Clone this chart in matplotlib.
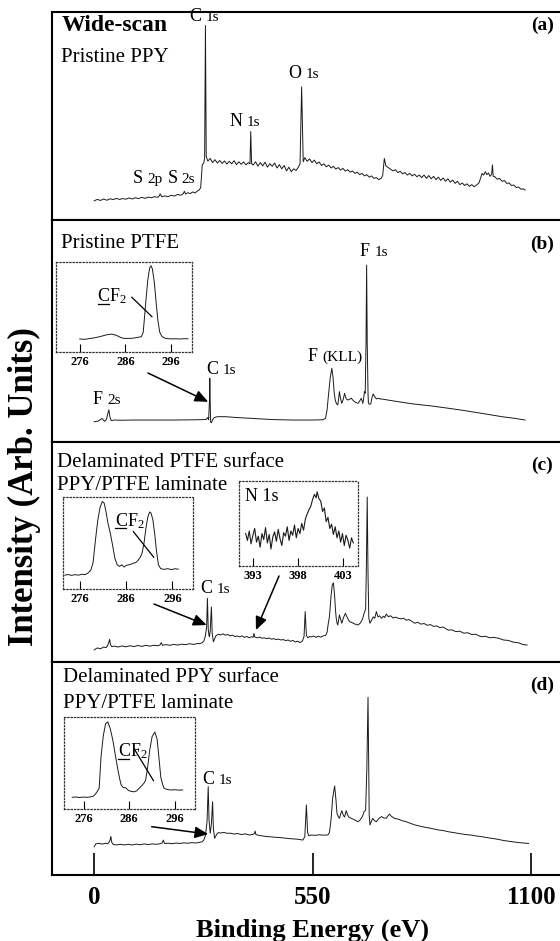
import matplotlib
matplotlib.use("Agg")
from matplotlib import pyplot as plt

plt.rcParams['font.family'] = ['Liberation Serif', 'DejaVu Serif']
plt.rcParams['mathtext.fontset'] = 'custom'
plt.rcParams['mathtext.rm'] = 'Liberation Serif'

# ---- wide-scan spectra (binding energy in eV, intensity in arb. units) ----
# (a) pristine PPY
ppy_be = [0, 8, 16, 24, 32, 40, 48, 56, 64, 72, 80, 88, 96, 104, 112, 120, 128, 136,
          144, 152, 160, 164, 166, 170, 178, 186, 194, 202, 210, 218, 224, 227, 230,
          236, 242, 248, 254, 260, 264, 268, 270, 272, 276, 278, 280, 282, 286, 292,
          298, 304, 310, 316, 322, 328, 334, 340, 346, 352, 358, 364, 370, 376, 382,
          388, 392, 394, 396, 400, 406, 412, 418, 424, 430, 436, 442, 448, 454, 460,
          466, 472, 478, 484, 490, 496, 502, 508, 514, 518, 522, 526, 530, 536, 542,
          548, 554, 560, 566, 572, 578, 584, 590, 596, 602, 608, 614, 620, 626, 632,
          638, 644, 650, 656, 662, 668, 674, 680, 686, 692, 698, 704, 710, 716, 722,
          726, 730, 734, 740, 746, 752, 758, 764, 770, 776, 782, 788, 794, 800, 806,
          812, 818, 824, 830, 836, 842, 848, 854, 860, 866, 872, 878, 884, 890, 896,
          902, 908, 914, 920, 926, 932, 938, 944, 950, 956, 962, 968, 972, 976, 980,
          984, 988, 992, 996, 1000, 1002, 1004, 1008, 1014, 1020, 1026, 1032, 1038,
          1044, 1050, 1056, 1062, 1068, 1074, 1080, 1084]
ppy_int = [9.2, 9.9, 9.4, 10.1, 9.5, 10.2, 9.8, 10.4, 9.9, 10.3, 10.0, 10.6, 10.1, 10.7,
           10.3, 10.9, 10.4, 11.0, 10.7, 11.2, 10.9, 11.6, 12.6, 11.2, 11.6, 11.2, 11.9,
           11.5, 12.3, 11.9, 12.6, 13.8, 12.5, 13.1, 12.7, 13.5, 13.0, 14.0, 14.4, 15.5,
           21.0, 26.5, 27.5, 30.0, 93.5, 30.5, 28.3, 29.6, 27.6, 29.0, 27.4, 28.6, 27.2,
           28.4, 26.9, 28.2, 27.0, 28.5, 26.6, 28.0, 26.8, 27.9, 26.5, 27.6, 27.0, 42.5,
           27.2, 26.4, 28.0, 25.9, 27.6, 26.0, 27.8, 25.4, 27.1, 25.8, 27.4, 25.0, 26.6,
           24.6, 26.2, 23.6, 25.4, 23.2, 24.6, 23.8, 25.5, 27.0, 64.0, 28.0, 30.0, 28.2,
           29.4, 27.6, 28.8, 27.0, 27.9, 26.2, 27.0, 25.6, 26.4, 25.0, 25.8, 24.5, 25.2,
           24.0, 24.8, 23.5, 24.2, 23.0, 23.6, 22.4, 23.0, 21.8, 22.4, 21.2, 21.8, 20.6,
           21.2, 20.0, 20.4, 19.4, 20.0, 21.5, 29.6, 26.0, 25.2, 24.4, 23.6, 24.2, 22.8,
           23.4, 22.2, 22.8, 21.6, 22.4, 21.2, 22.0, 20.8, 21.6, 20.4, 21.6, 20.0, 21.4,
           19.8, 21.0, 19.4, 20.6, 19.0, 20.2, 18.6, 19.8, 18.2, 19.2, 17.6, 18.6, 17.0,
           17.8, 16.6, 17.4, 16.2, 17.0, 16.0, 16.8, 17.8, 20.0, 22.4, 21.6, 23.2, 21.8,
           22.6, 21.0, 22.0, 26.5, 21.0, 20.8, 19.6, 20.0, 18.6, 19.0, 17.6, 17.8, 16.6,
           16.8, 15.6, 15.8, 14.8, 15.0, 14.4]

# (b) pristine PTFE
ptfe_be = [0, 10, 20, 26, 31, 34, 37, 40, 43, 50, 70, 100, 150, 200, 250, 275, 282, 286,
           288, 290, 291, 292, 293, 295, 298, 302, 310, 330, 360, 400, 450, 500, 550,
           575, 582, 586, 590, 594, 598, 601, 604, 607, 610, 613, 615, 617, 620, 623,
           627, 630, 634, 638, 642, 647, 652, 658, 664, 668, 672, 676, 678, 680, 682,
           684, 685.5, 687, 689, 690, 693, 696, 699, 702, 706, 710, 714, 720, 730, 739,
           760, 800, 850, 891, 930, 975, 1026, 1060, 1084]
ptfe_int = [9.1, 9.4, 10.6, 9.3, 10.2, 12.5, 14.5, 11.0, 9.6, 9.9, 9.8, 9.9, 9.9, 9.9,
            10.0, 10.1, 10.2, 11.0, 10.0, 18.0, 28.7, 18.0, 9.0, 8.7, 10.0, 11.0, 11.4,
            11.4, 11.0, 10.6, 10.1, 9.9, 9.9, 10.0, 10.6, 14.5, 22.0, 29.0, 33.2, 29.0,
            22.0, 18.5, 17.2, 16.7, 19.5, 22.7, 19.5, 17.4, 19.5, 21.9, 19.5, 18.9, 19.2,
            19.7, 18.6, 17.8, 17.4, 18.5, 19.7, 17.4, 19.5, 22.7, 22.0, 45.0, 79.7, 45.0,
            22.0, 17.4, 17.0, 17.2, 20.0, 21.6, 20.4, 19.4, 19.7, 19.4, 19.2, 18.9, 18.3,
            17.2, 16.2, 15.2, 14.2, 12.9, 11.4, 10.6, 9.9]

# (c) delaminated PTFE surface
dptfe_be = [0, 8, 16, 24, 30, 34, 37, 39, 41, 44, 52, 60, 70, 80, 90, 100, 110, 120,
            130, 140, 150, 160, 166, 169, 172, 180, 190, 200, 210, 220, 230, 240, 250,
            260, 266, 272, 276, 280, 283, 285, 287, 289, 290, 292, 295, 297, 300, 303,
            306, 312, 318, 324, 330, 336, 342, 348, 354, 360, 366, 372, 378, 384, 390,
            396, 400, 402, 404, 410, 416, 422, 428, 434, 440, 446, 452, 458, 464, 470,
            476, 482, 488, 494, 500, 506, 512, 518, 524, 528, 531, 534, 538, 542, 546,
            552, 558, 564, 570, 576, 582, 586, 589, 592, 596, 599, 602, 605, 607, 609,
            611, 613, 615, 617, 620, 623, 627, 632, 636, 640, 643, 648, 654, 660, 664,
            670, 675, 679, 683, 685, 687, 689, 691, 694, 698, 702, 706, 710, 714, 718,
            723, 728, 731, 735, 740, 746, 752, 758, 765, 772, 778, 786, 792, 800, 807,
            814, 822, 830, 838, 846, 854, 862, 870, 878, 886, 891, 900, 910, 920, 930,
            940, 950, 960, 968, 975, 985, 995, 1005, 1017, 1030, 1042, 1055, 1066, 1078,
            1089]
dptfe_int = [5.5, 6.4, 6.0, 6.8, 6.5, 7.5, 9.0, 10.3, 8.0, 7.0, 7.2, 6.8, 7.3, 6.9, 7.4,
             7.0, 7.5, 7.1, 7.6, 7.2, 7.6, 7.4, 7.8, 8.8, 7.6, 7.9, 7.6, 8.0, 7.7, 8.1,
             7.9, 8.3, 8.0, 8.4, 8.3, 8.8, 9.5, 12.0, 16.0, 29.0, 15.0, 12.0, 11.5, 14.0,
             25.0, 13.0, 9.2, 10.5, 11.8, 12.6, 12.3, 12.8, 12.2, 12.5, 11.9, 12.2, 11.6,
             11.8, 11.4, 11.9, 11.2, 11.6, 11.0, 11.5, 11.2, 13.0, 11.4, 11.0, 11.3, 10.8,
             11.0, 10.6, 10.9, 10.4, 10.6, 10.2, 10.4, 10.0, 10.2, 9.7, 10.0, 9.4, 9.8,
             9.1, 9.4, 8.8, 9.6, 11.5, 22.9, 12.0, 11.0, 11.6, 11.4, 11.8, 11.2, 11.7,
             11.3, 11.9, 12.0, 13.5, 17.5, 20.7, 30.0, 35.0, 36.0, 30.0, 24.0, 19.9, 17.8,
             16.8, 19.0, 21.4, 19.5, 17.6, 20.0, 22.1, 20.5, 19.0, 18.3, 18.0, 17.4, 17.0,
             16.8, 17.8, 19.5, 22.1, 24.0, 45.0, 75.0, 40.0, 20.0, 17.6, 19.0, 20.5, 19.9,
             22.9, 20.5, 21.0, 19.9, 20.8, 20.2, 21.8, 20.6, 21.0, 20.0, 20.4, 19.9, 19.6,
             19.9, 19.0, 19.3, 18.4, 17.6, 18.1, 17.2, 17.5, 16.7, 17.0, 16.2, 16.4, 15.6,
             15.9, 15.0, 14.5, 14.6, 13.8, 14.0, 13.1, 13.3, 12.5, 12.6, 11.9, 11.5, 11.7,
             11.0, 11.2, 10.8, 10.0, 9.8, 9.0, 8.8, 8.0, 7.7]

# (d) delaminated PPY surface
dppy_be = [0, 4, 12, 20, 28, 34, 38, 41, 42, 44, 48, 56, 66, 76, 86, 96, 106, 116, 126,
           136, 146, 156, 166, 171, 174, 177, 186, 196, 206, 216, 226, 236, 246, 256,
           266, 272, 276, 280, 284, 287, 289, 292, 295, 298, 300, 303, 308, 312, 318,
           326, 334, 344, 352, 360, 370, 380, 390, 398, 403, 405, 407, 414, 422, 430,
           436, 446, 456, 466, 476, 487, 496, 506, 516, 525, 530, 534, 537, 540, 546,
           556, 566, 576, 588, 592, 596, 600, 605, 608, 611, 614, 617, 620, 623, 627,
           630, 634, 638, 642, 647, 654, 660, 664, 670, 675, 679, 683, 686, 689, 691,
           692, 694, 698, 701, 705, 710, 716, 723, 729, 735, 739, 743, 748, 756, 765,
           775, 785, 795, 807, 818, 830, 842, 855, 868, 880, 891, 905, 920, 935, 950,
           962, 975, 990, 1005, 1017, 1030, 1045, 1060, 1075, 1093]
dppy_int = [13.2, 14.6, 14.9, 14.5, 14.9, 14.7, 15.5, 17.0, 18.0, 15.5, 14.3, 14.1, 14.4,
            14.1, 14.4, 14.1, 14.5, 14.2, 14.6, 14.3, 14.6, 14.4, 14.7, 15.0, 16.4, 14.8,
            14.9, 14.7, 15.0, 14.8, 15.1, 14.9, 15.2, 15.0, 15.4, 15.6, 16.5, 18.5, 25.0,
            41.5, 26.0, 19.6, 24.0, 34.4, 22.0, 17.2, 19.0, 19.9, 19.7, 20.0, 19.6, 19.6,
            19.2, 19.5, 19.0, 19.3, 18.8, 19.0, 19.4, 20.6, 19.0, 18.6, 18.4, 18.2, 18.0,
            17.9, 17.7, 17.6, 17.4, 17.2, 17.0, 16.9, 16.7, 16.4, 18.0, 32.9, 20.0, 18.4,
            18.8, 18.6, 18.9, 18.7, 18.8, 20.0, 26.0, 36.0, 41.8, 36.0, 28.9, 27.5, 26.6,
            28.5, 30.2, 28.0, 27.2, 30.2, 28.0, 27.0, 26.6, 26.0, 25.4, 25.0, 26.0, 27.5,
            29.7, 30.5, 50.0, 83.4, 45.0, 28.0, 23.5, 25.5, 26.6, 25.5, 25.0, 26.5, 27.4,
            26.8, 26.6, 27.8, 28.6, 27.5, 26.6, 26.2, 25.5, 25.0, 24.3, 23.5, 23.0, 22.5,
            22.1, 21.6, 21.1, 20.8, 20.3, 19.9, 19.4, 19.0, 18.7, 18.3, 18.0, 17.5, 17.1,
            16.7, 16.2, 15.8, 15.4, 15.1, 14.8]

# ---- C 1s core-level insets ----
cf2_b_be = [276.0, 277.0, 278.0, 279.0, 280.0, 281.0, 282.0, 283.0, 284.0, 285.0, 285.5,
            286.5, 287.5, 288.5, 289.5, 289.9, 290.2, 290.5, 290.9, 291.3, 291.6, 291.9,
            292.3, 292.7, 293.1, 293.5, 294.0, 294.8, 296.0, 297.0, 298.0, 299.0, 299.7]
cf2_b_int = [14.5, 14.0, 14.8, 15.5, 16.5, 17.8, 19.2, 19.8, 18.5, 16.0, 15.2, 15.0, 15.2,
             16.0, 17.0, 22.0, 40.0, 58.0, 80.0, 93.0, 95.5, 92.0, 78.0, 56.0, 35.0, 22.0,
             17.0, 15.0, 14.5, 14.6, 14.4, 14.8, 14.6]

cf2_c_be = [272.8, 273.5, 274.2, 275.0, 275.8, 276.5, 277.2, 277.8, 278.4, 278.9, 279.4,
            279.9, 280.4, 280.9, 281.3, 281.7, 282.1, 282.6, 283.1, 283.6, 284.1, 284.6,
            285.1, 285.6, 286.1, 286.6, 287.1, 287.6, 288.1, 288.6, 289.1, 289.5, 289.9,
            290.3, 290.7, 291.1, 291.4, 291.8, 292.2, 292.6, 293.0, 293.5, 294.2, 295.0,
            295.8, 296.5, 297.3]
cf2_c_int = [12.5, 13.2, 12.4, 13.0, 12.6, 13.4, 13.0, 14.5, 17.0, 24.0, 44.0, 62.0, 74.0,
             79.5, 78.0, 70.0, 60.0, 51.0, 40.0, 28.0, 22.0, 20.5, 22.0, 20.0, 21.5, 22.0,
             22.5, 23.5, 24.0, 26.0, 29.0, 33.0, 42.0, 55.0, 65.0, 70.0, 69.0, 63.0, 50.0,
             34.0, 22.0, 18.5, 17.8, 18.5, 17.6, 18.4, 18.0]

cf2_d_be = [273.5, 274.3, 275.1, 275.9, 276.7, 277.5, 278.2, 278.8, 279.4, 279.8, 280.3,
            280.8, 281.3, 281.8, 282.4, 282.9, 283.5, 283.9, 284.2, 284.7, 285.2, 285.8,
            286.4, 287.0, 287.6, 288.2, 288.8, 289.3, 289.6, 290.0, 290.5, 291.0, 291.6,
            292.1, 292.5, 292.9, 293.3, 293.6, 294.3, 295.1, 296.0, 296.9, 297.7]
cf2_d_int = [13.0, 13.4, 12.8, 13.3, 13.0, 13.5, 14.5, 18.0, 23.0, 57.0, 80.0, 93.0, 95.0,
             88.0, 75.0, 60.0, 43.0, 33.0, 26.5, 23.5, 23.5, 20.5, 19.5, 19.0, 20.0, 23.0,
             26.0, 29.0, 32.0, 45.0, 65.0, 79.0, 84.0, 76.0, 56.0, 35.0, 27.0, 23.0, 21.5,
             21.0, 21.3, 20.8, 21.0]

# ---- N 1s inset on the delaminated PTFE surface ----
n1s_be = [392.2, 392.4, 392.6, 392.8, 393.0, 393.2, 393.4, 393.6, 393.8, 394.0, 394.2,
          394.4, 394.6, 394.8, 395.0, 395.2, 395.4, 395.6, 395.8, 396.0, 396.2, 396.4,
          396.6, 396.8, 397.0, 397.2, 397.4, 397.6, 397.8, 398.0, 398.2, 398.4, 398.6,
          398.8, 399.0, 399.2, 399.4, 399.6, 399.8, 400.0, 400.1, 400.3, 400.5, 400.7,
          400.9, 401.1, 401.3, 401.5, 401.7, 401.9, 402.1, 402.3, 402.5, 402.7, 402.9,
          403.1, 403.3, 403.5, 403.7, 403.9, 404.1]
n1s_int = [38, 30, 41, 26, 36, 44, 28, 35, 22, 38, 31, 45, 27, 37, 20, 34, 40, 29, 43, 32,
           24, 39, 35, 46, 30, 41, 36, 48, 33, 44, 38, 50, 42, 55, 61, 66, 70, 78, 84, 80,
           87, 79, 76, 64, 68, 52, 57, 44, 49, 37, 46, 33, 41, 28, 38, 24, 36, 30, 21, 33,
           27]

inset_ticks = [276, 286, 296]
n1s_ticks = [393, 398, 403]
be_ticks = [0, 550, 1100]
be_ticklabels = ['0', '550', '1100']

W, H = 560, 941
fig = plt.figure(figsize=(W / 100, H / 100), dpi=100)


def box(l, t, r, b):
    return [l / W, 1 - b / H, (r - l) / W, (b - t) / H]


def fxy(px, py):
    return (px / W, 1 - py / H)


line_kw = dict(color='#1a1a1a', lw=0.7)

panels = []
for t, b in [(12, 220), (220, 442), (442, 662), (662, 875)]:
    ax = fig.add_axes(box(52, t, 562, b))
    ax.set_xlim(-106, 1177)
    ax.set_ylim(0, 100)
    ax.set_yticks([])
    ax.set_xticks([])
    for s in ax.spines.values():
        s.set_linewidth(1.5)
    ax.spines['right'].set_visible(False)
    panels.append(ax)
ax_a, ax_b, ax_c, ax_d = panels

ax_a.plot(ppy_be, ppy_int, **line_kw)
ax_b.plot(ptfe_be, ptfe_int, **line_kw)
ax_c.plot(dptfe_be, dptfe_int, **line_kw)
ax_d.plot(dppy_be, dppy_int, **line_kw)

ax_d.set_xticks(be_ticks)
ax_d.set_xticklabels(be_ticklabels, fontsize=18, fontweight='bold')
ax_d.tick_params(axis='x', direction='in', length=16, width=1.2, pad=8)

# widths (points at 13 pt) of the element symbol plus a space
sym_w = {'C': 11.8, 'N': 12.6, 'O': 12.6, 'S': 10.5, 'F': 10.5}


def peak_label(ax, x, y, elem, level):
    ax.text(x, y, elem, fontsize=13, va='baseline', ha='left')
    ax.annotate(level, (x, y), xytext=(sym_w[elem], 0), textcoords='offset points',
                fontsize=11, va='baseline', ha='left')


peak_label(ax_a, 240, 95.7, 'C', '1s')
peak_label(ax_a, 340, 45.2, 'N', '1s')
peak_label(ax_a, 489, 68.3, 'O', '1s')
peak_label(ax_a, 98, 17.8, 'S', '2p')
peak_label(ax_a, 184, 17.8, 'S', '2s')
peak_label(ax_b, 668, 83.8, 'F', '1s')
peak_label(ax_b, 537, 36.5, 'F', '(KLL)')
peak_label(ax_b, 283, 30.6, 'C', '1s')
peak_label(ax_b, -3, 17.1, 'F', '2s')
peak_label(ax_c, 268, 31.4, 'C', '1s')
peak_label(ax_d, 272, 42.7, 'C', '1s')

# panel captions
ax_a.text(0.0185, 0.933, 'Wide-scan', transform=ax_a.transAxes, fontsize=17,
          fontweight='bold', va='center')
ax_a.text(0.0185, 0.779, 'Pristine PPY', transform=ax_a.transAxes, fontsize=15, va='center')
ax_b.text(0.0185, 0.892, 'Pristine PTFE', transform=ax_b.transAxes, fontsize=15, va='center')
ax_c.text(0.0098, (662 - 467) / 220, 'Delaminated PTFE surface', transform=ax_c.transAxes,
          fontsize=15, va='baseline')
ax_c.text(0.0098, (662 - 490) / 220, 'PPY/PTFE laminate', transform=ax_c.transAxes,
          fontsize=15, va='baseline')
ax_d.text(0.0207, 0.925, 'Delaminated PPY surface', transform=ax_d.transAxes,
          fontsize=15, va='center')
ax_d.text(0.0207, 0.8075, 'PPY/PTFE laminate', transform=ax_d.transAxes, fontsize=15,
          va='center')
for ax, tag, yy in [(ax_a, '(a)', 0.9375), (ax_b, '(b)', 0.892), (ax_c, '(c)', 0.895),
                    (ax_d, '(d)', 0.892)]:
    ax.text(0.961, yy, tag, transform=ax.transAxes, fontsize=14, fontweight='bold',
            ha='center', va='center')


def make_inset(rect, xlim, ylim, ticks):
    ins = fig.add_axes(box(*rect))
    ins.patch.set_alpha(0)
    ins.set_xlim(*xlim)
    ins.set_ylim(*ylim)
    ins.set_yticks([])
    ins.set_xticks(ticks)
    ins.set_xticklabels([str(t) for t in ticks], fontsize=9, fontweight='bold')
    ins.tick_params(axis='x', direction='in', length=6, width=0.8, pad=3)
    for s in ins.spines.values():
        s.set_linestyle(':')
        s.set_linewidth(0.9)
        s.set_color('#333333')
    return ins


def cf2_label(ins, x, y, x0, y0, x1, y1, cw, dy):
    # CF2 with the carbon underlined, plus a leader line to the CF2 peak
    ins.text(x, y, r'$\mathregular{CF_2}$', fontsize=13, va='baseline', ha='left')
    ins.plot([x + 0.1, x + cw], [y - dy, y - dy], color='black', lw=0.9)
    ins.plot([x0, x1], [y0, y1], color='black', lw=0.9)


ins_b = make_inset((56.4, 261.7, 191.7, 352), (270.9, 300.5), (0, 100), inset_ticks)
ins_b.plot(cf2_b_be, cf2_b_int, **line_kw)
cf2_label(ins_b, 279.8, 56.5, 287.4, 60.6, 291.8, 39.1, 2.5, 2.8)

ins_c = make_inset((62.5, 497, 192.7, 589), (272.3, 300.4), (0, 83.6), inset_ticks)
ins_c.plot(cf2_c_be, cf2_c_int, **line_kw)
cf2_label(ins_c, 283.6, 57.3, 287.6, 52.1, 292.0, 28.8, 2.5, 2.3)

ins_n = make_inset((239.3, 480.7, 358.3, 566), (391.5, 404.65), (0, 100), n1s_ticks)
ins_n.plot(n1s_be, n1s_int, color='#1a1a1a', lw=0.8)
ins_n.text(392.15, 82, 'N 1s', fontsize=13, va='center', ha='left')

ins_d = make_inset((63.6, 717.3, 195, 809.3), (271.6, 300.4), (0, 100), inset_ticks)
ins_d.plot(cf2_d_be, cf2_d_int, **line_kw)
cf2_label(ins_d, 283.5, 58.0, 287.0, 66.3, 291.3, 31.1, 2.5, 2.8)

arrow_kw = dict(arrowstyle='-|>,head_length=0.8,head_width=0.35', color='black', lw=1.1,
                shrinkA=0, shrinkB=0)
ax_b.annotate('', xy=(287, 18.1), xytext=fxy(148, 373), textcoords='figure fraction',
              arrowprops=arrow_kw)
ax_c.annotate('', xy=(283, 16.8), xytext=fxy(154, 604), textcoords='figure fraction',
              arrowprops=arrow_kw)
ax_c.annotate('', xy=(407, 14.5), xytext=fxy(279, 576), textcoords='figure fraction',
              arrowprops=arrow_kw)
ax_d.annotate('', xy=(287, 19.2), xytext=fxy(151.7, 826.7), textcoords='figure fraction',
              arrowprops=arrow_kw)

fig.text(312 / W, 1 - 930 / H, 'Binding Energy (eV)', fontsize=19, fontweight='bold',
         ha='center', va='center')
fig.text(24 / W, 1 - 487 / H, 'Intensity (Arb. Units)', fontsize=25, fontweight='bold',
         ha='center', va='center', rotation=90)

fig.savefig('out.png', dpi=100)
